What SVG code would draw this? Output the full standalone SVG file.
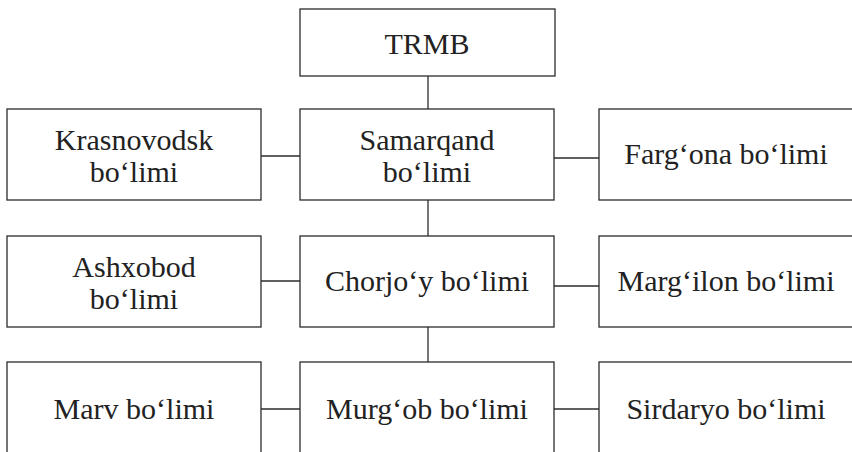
<svg xmlns="http://www.w3.org/2000/svg" width="852" height="452" viewBox="0 0 852 452">
<style>
.box{fill:#fff;stroke:#2b2b2b;stroke-width:1.3}
.t{font-family:'Liberation Serif',Tinos,'Times New Roman','DejaVu Serif','Noto Serif',serif;font-size:30px;fill:#222;text-anchor:middle}
.c{stroke:#2b2b2b;stroke-width:1.3;fill:none}
</style>
<rect width="852" height="452" fill="#fff"/>
<g id="connectors">
<line class="c" x1="428" y1="76" x2="428" y2="109"/>
<line class="c" x1="428" y1="200" x2="428" y2="236"/>
<line class="c" x1="428" y1="327" x2="428" y2="362"/>
<line class="c" x1="261" y1="156" x2="300" y2="156"/>
<line class="c" x1="554" y1="158" x2="599" y2="158"/>
<line class="c" x1="261" y1="281" x2="300" y2="281"/>
<line class="c" x1="554" y1="286" x2="599" y2="286"/>
<line class="c" x1="261" y1="409" x2="300" y2="409"/>
<line class="c" x1="554" y1="409" x2="599" y2="409"/>
</g>
<g id="trmb"><rect class="box" x="300" y="9" width="255" height="67"/><text class="t" font-family="Liberation Serif, serif" x="427" y="54">TRMB</text></g>
<g id="krasnovodsk"><rect class="box" x="7" y="109" width="254" height="91"/><text class="t" x="134" y="150">Krasnovodsk</text><text class="t" x="134" y="182">bo‘limi</text></g>
<g id="samarqand"><rect class="box" x="300" y="109" width="254" height="91"/><text class="t" x="427" y="150">Samarqand</text><text class="t" x="427" y="182">bo‘limi</text></g>
<g id="fargona"><rect class="box" x="599" y="109" width="260" height="91"/><text class="t" x="726" y="164">Farg‘ona bo‘limi</text></g>
<g id="ashxobod"><rect class="box" x="7" y="236" width="254" height="91"/><text class="t" x="134" y="277">Ashxobod</text><text class="t" x="134" y="309">bo‘limi</text></g>
<g id="chorjoy"><rect class="box" x="300" y="236" width="254" height="91"/><text class="t" x="427" y="291">Chorjo‘y bo‘limi</text></g>
<g id="margilon"><rect class="box" x="599" y="236" width="260" height="91"/><text class="t" x="726" y="291">Marg‘ilon bo‘limi</text></g>
<g id="marv"><rect class="box" x="7" y="362" width="254" height="100"/><text class="t" x="134" y="419">Marv bo‘limi</text></g>
<g id="murgob"><rect class="box" x="300" y="362" width="254" height="100"/><text class="t" x="427" y="419">Murg‘ob bo‘limi</text></g>
<g id="sirdaryo"><rect class="box" x="599" y="362" width="260" height="100"/><text class="t" x="726" y="419">Sirdaryo bo‘limi</text></g>
</svg>
